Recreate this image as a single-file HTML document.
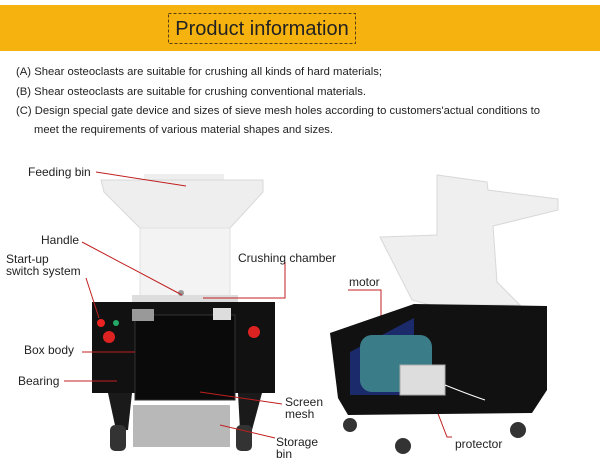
<!DOCTYPE html>
<html><head><meta charset="utf-8"><style>
body{margin:0;background:#fff;width:600px;height:476px;overflow:hidden}
svg{display:block}
text{font-family:"Liberation Sans",sans-serif;fill:#222}
</style></head><body>
<svg width="600" height="476" viewBox="0 0 600 476">
<rect x="0" y="5" width="600" height="46" fill="#f6b310"/>
<rect x="168.5" y="13.5" width="187" height="30" fill="none" stroke="#5a3f10" stroke-dasharray="3,2"/>
<text x="262" y="35" font-size="20" text-anchor="middle" fill="#2a1f10">Product information</text>
<g font-size="11.2">
<text x="16" y="75" textLength="366" lengthAdjust="spacingAndGlyphs">(A) Shear osteoclasts are suitable for crushing all kinds of hard materials;</text>
<text x="16" y="95" textLength="350" lengthAdjust="spacingAndGlyphs">(B) Shear osteoclasts are suitable for crushing conventional materials.</text>
<text x="16" y="114" textLength="524" lengthAdjust="spacingAndGlyphs">(C) Design special gate device and sizes of sieve mesh holes according to customers'actual conditions to</text>
<text x="34" y="133" textLength="299" lengthAdjust="spacingAndGlyphs">meet the requirements of various material shapes and sizes.</text>
</g>
<!-- left machine -->
<rect x="144" y="174" width="80" height="6" fill="#eee"/>
<polygon points="101,180 263,180 263,192 230,228 140,228 104,192" fill="#eeeeee" stroke="#d8d8d8"/>
<rect x="140" y="228" width="90" height="74" fill="#f3f3f3" stroke="#e0e0e0"/>
<rect x="132" y="295" width="106" height="8" fill="#ddd"/>
<rect x="92" y="302" width="183" height="91" fill="#111"/>
<rect x="135" y="315" width="100" height="85" fill="#0a0a0a" stroke="#333"/>
<polygon points="108,393 132,393 128,430 116,430" fill="#1a1a1a"/>
<polygon points="238,393 262,393 252,430 240,430" fill="#1a1a1a"/>
<rect x="133" y="405" width="97" height="42" fill="#b8b8b8"/>
<rect x="110" y="425" width="16" height="26" rx="5" fill="#333"/>
<rect x="236" y="425" width="16" height="26" rx="5" fill="#333"/>
<circle cx="101" cy="323" r="4" fill="#e22"/><circle cx="116" cy="323" r="3" fill="#2a6"/>
<circle cx="109" cy="337" r="6" fill="#d22"/><circle cx="254" cy="332" r="6" fill="#d22"/>
<rect x="132" y="309" width="22" height="12" fill="#999"/><rect x="213" y="308" width="18" height="12" fill="#ddd"/>
<circle cx="181" cy="293" r="3" fill="#999"/>
<g stroke="#c02020" stroke-width="1" fill="none">
<polyline points="96,172 186,186"/>
<polyline points="82,242 182,295"/>
<polyline points="86,278 99,318"/>
<polyline points="285,262 285,298 203,298"/>
<polyline points="82,352 135,352"/>
<polyline points="64,381 117,381"/>
<polyline points="282,404 200,392"/>
<polyline points="275,438 220,425"/>
<polyline points="348,290 381,290 381,372"/>
<polyline points="452,437 447,437 427,385"/>
</g>
<g font-size="12">
<text x="28" y="176">Feeding bin</text>
<text x="41" y="244">Handle</text>
<text x="6" y="263">Start-up</text>
<text x="6" y="275">switch system</text>
<text x="238" y="262">Crushing chamber</text>
<text x="24" y="354">Box body</text>
<text x="18" y="385">Bearing</text>
<text x="285" y="406">Screen</text>
<text x="285" y="418">mesh</text>
<text x="276" y="446">Storage</text>
<text x="276" y="458">bin</text>
<text x="349" y="286">motor</text>
<text x="455" y="448">protector</text>
</g>
<!-- right machine -->
<polygon points="380,237 437,235 437,175 487,182 488,190 558,199 558,210 493,226 497,282 520,305 430,305 412,300" fill="#efefef" stroke="#d8d8d8"/>
<polygon points="330,333 414,304 547,306 547,390 532,413 348,415 338,398" fill="#111"/>
<polygon points="350,352 414,318 414,395 350,395" fill="#1b2a6a"/>
<rect x="360" y="335" width="72" height="57" rx="12" fill="#3a7d88"/>
<rect x="400" y="365" width="45" height="30" fill="#ddd" stroke="#aaa"/>
<path d="M445 385 Q470 395 485 400" stroke="#fff" fill="none"/>
<circle cx="350" cy="425" r="7" fill="#333"/><circle cx="403" cy="446" r="8" fill="#333"/><circle cx="518" cy="430" r="8" fill="#333"/>
</svg>
</body></html>
